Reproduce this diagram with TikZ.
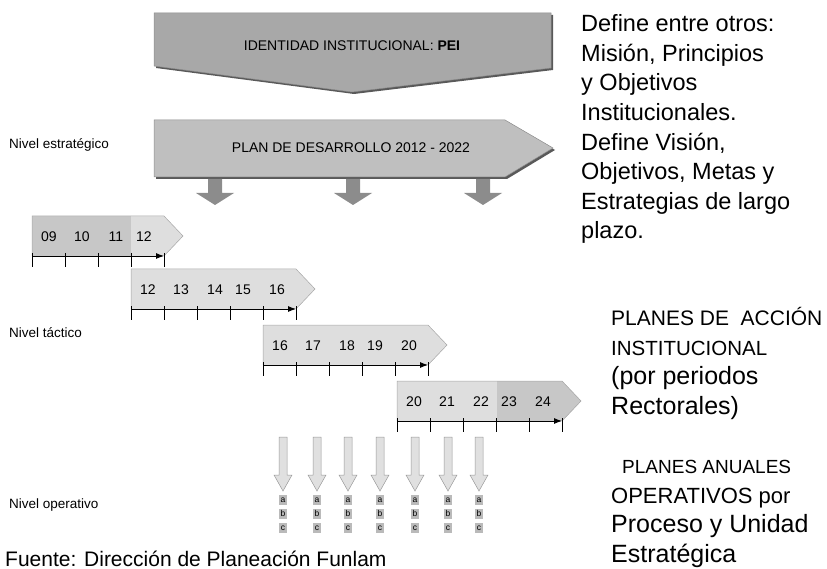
\documentclass[tikz,border=0pt]{standalone}
\usepackage{fontspec}
\setmainfont{Liberation Sans}
\usetikzlibrary{positioning,arrows.meta,calc}

\begin{document}
\begin{tikzpicture}[x=1pt,y=-1pt,
        banner/.style={draw=black!45,line width=0.5pt},
        shade/.style={fill=black!65,shift={(2,2)}},
        yearbox/.style={draw=black!35,line width=0.5pt},
        yearlabel/.style={inner sep=0pt,font=\fontsize{14}{16}\selectfont},
        axis/.style={line width=0.9pt,-{Latex[length=8pt,width=6pt]}},
        tick/.style={line width=0.9pt},
        bigarrow/.style={fill=black!45},
        smallarrow/.style={draw=black!40,line width=0.5pt,fill=black!12},
        abcbox/.style={fill=black!27,inner sep=0pt,minimum width=8pt,minimum height=9.5pt,font=\fontsize{8.5}{9}\selectfont},
        levellabel/.style={anchor=base west,inner sep=0pt,font=\fontsize{13.5}{15}\selectfont},
        sidenote/.style={anchor=base west,inner sep=0pt,align=left}]

    \useasboundingbox (0,0) rectangle (827,569);

    % nivel estrategico
    \fill[shade] (154,13) -- (551,13) -- (551,68) -- (352,92) -- (154,66) -- cycle;
    \draw[banner,fill=black!34] (154,13) -- (551,13) -- (551,68) -- (352,92) -- (154,66) -- cycle;
    \node[font=\fontsize{14}{16}\selectfont] (pei) at (352,46) {IDENTIDAD INSTITUCIONAL: \textbf{PEI}};

    \fill[shade] (154,120) -- (505,120) -- (553,148) -- (505,177) -- (154,177) -- cycle;
    \draw[banner,fill=black!25] (154,120) -- (505,120) -- (553,148) -- (505,177) -- (154,177) -- cycle;
    \node[font=\fontsize{14}{16}\selectfont] (plan) at (351,148) {PLAN DE DESARROLLO 2012 - 2022};
    \foreach \cx in {215,353,483}
        \fill[bigarrow] (\cx-7,179) -- (\cx+7,179) -- (\cx+7,193) -- (\cx+19,193)
            -- (\cx,205) -- (\cx-19,193) -- (\cx-7,193) -- cycle;

    % nivel tactico
    \foreach \lx/\ty/\n/\first/\da/\db [count=\k] in
            {32/216/4/9/0/99, 131/269/5/12/0/0, 263/325/5/16/0/0, 397/381/5/20/100/190} {
        \pgfmathsetmacro\rx{\lx+33*\n}
        \begin{scope}
            \clip (\lx,\ty) -- (\rx,\ty) -- (\rx+19,\ty+20) -- (\rx,\ty+40) -- (\lx,\ty+40) -- cycle;
            \fill[black!13] (\lx,\ty) rectangle (\rx+20,\ty+40);
            \fill[black!22] (\lx+\da,\ty) rectangle (\lx+\db,\ty+40);
        \end{scope}
        \draw[yearbox] (\lx,\ty+40) -- (\lx,\ty) -- (\rx,\ty) -- (\rx+19,\ty+20) -- (\rx,\ty+40);
        \draw[axis] (\lx,\ty+40) -- (\rx,\ty+40);
        \foreach \t in {0,...,\n}
            \draw[tick] (\lx+33*\t,\ty+37) -- (\lx+33*\t,\ty+51);
        \foreach \j in {1,...,\n} {
            \pgfmathtruncatemacro\yr{\first+\j-1}
            \pgfmathsetmacro\off{{17,50,84,112,146}[\j-1]}
            \node[yearlabel] (y\k-\j) at (\lx+\off,\ty+21) {\ifnum\yr<10 0\fi\yr};
        }
    }

    % nivel operativo
    \foreach \cx [count=\i] in {283,317,348,380,415,448,479} {
        \draw[smallarrow] (\cx-4,437) -- (\cx+4,437) -- (\cx+4,475) -- (\cx+9,475)
            -- (\cx,491) -- (\cx-9,475) -- (\cx-4,475) -- cycle;
        \node[abcbox] (a\i) at (\cx,500) {a};
        \node[abcbox,below=4pt of a\i] (b\i) {b};
        \node[abcbox,below=4pt of b\i] (c\i) {c};
    }

    \node[levellabel] (estrategico) at (9,149) {Nivel estratégico};
    \node[levellabel] (tactico) at (9,337) {Nivel táctico};
    \node[levellabel] (operativo) at (9,508) {Nivel operativo};

    % base = last line
    \node[sidenote,font=\fontsize{23.5}{29.6}\selectfont] (define) at (581,239)
        {Define entre otros:\\Misión, Principios\\y Objetivos\\Institucionales.\\Define Visión,\\Objetivos, Metas y\\Estrategias de largo\\plazo.};
    \node[sidenote,font=\fontsize{25}{29.5}\selectfont] (accion) at (611,414)
        {{\fontsize{21}{24}\selectfont PLANES DE\ \ ACCIÓN}\\{\fontsize{20.5}{24}\selectfont INSTITUCIONAL}\\(por periodos\\Rectorales)};
    \node[sidenote,font=\fontsize{25}{29.5}\selectfont] (anuales) at (611,562)
        {{\fontsize{19}{24}\selectfont\hspace{11pt}PLANES ANUALES}\\{\fontsize{22}{24}\selectfont OPERATIVOS por}\\Proceso y Unidad\\Estratégica};

    \node[anchor=base west,inner sep=0pt,font=\fontsize{21}{24}\selectfont] (fuente) at (5,566) {Fuente: Dirección de Planeación Funlam};
\end{tikzpicture}
\end{document}
